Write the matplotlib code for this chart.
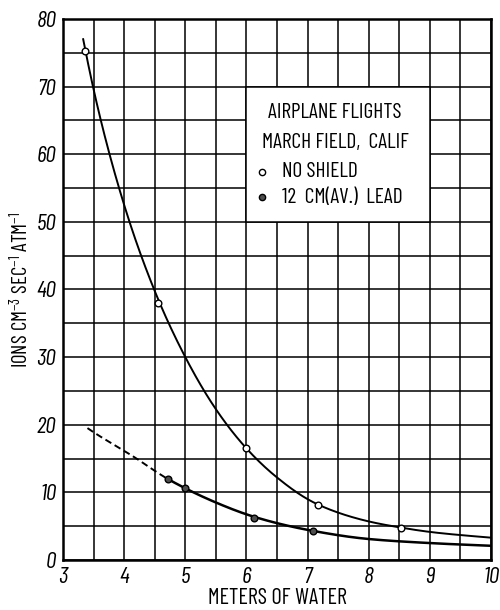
import numpy as np
import matplotlib
matplotlib.use("Agg")
import matplotlib.pyplot as plt
from matplotlib.patches import Rectangle

# ---- data ----
noshield_x = [3.36, 4.55, 6.0, 7.17, 8.52]
noshield_y = [75.3, 38.0, 16.5, 8.2, 4.8]

lead_x = [4.71, 5.0, 6.12, 7.09]
lead_y = [12.0, 10.6, 6.2, 4.3]

# hand-drawn smooth curves
noshield_curve_x = [3.33, 3.49, 4.0, 4.49, 5.0, 5.5, 6.0, 6.5, 7.17, 8.0, 8.52, 9.0, 10.0]
noshield_curve_y = [77.0, 70.0, 52.5, 40.0, 30.0, 22.3, 16.5, 12.2, 8.2, 5.7, 4.8, 4.15, 3.3]

lead_dash_x = [3.4, 4.15, 4.71]
lead_dash_y = [19.5, 15.3, 12.0]
lead_curve_x = [4.71, 5.0, 5.5, 6.12, 7.09, 8.0, 9.0, 10.0]
lead_curve_y = [12.0, 10.6, 8.5, 6.4, 4.3, 3.1, 2.5, 2.1]

x_ticks = [3, 4, 5, 6, 7, 8, 9, 10]
y_ticks = [0, 10, 20, 30, 40, 50, 60, 70, 80]

title1 = "AIRPLANE FLIGHTS"
title2 = "MARCH FIELD,  CALIF"
label_noshield = "NO SHIELD"
label_lead = "12  CM(AV.)  LEAD"
xlabel = "METERS OF WATER"
ylabel = r"IONS CM$^{-3}$ SEC$^{-1}$ ATM$^{-1}$"


def pchip_log(x, y, n=400):
    """Monotone cubic through the traced points, in log(y) for a smooth decay."""
    x = np.asarray(x, float)
    y = np.log(np.asarray(y, float))
    h = np.diff(x)
    d = np.diff(y) / h
    m = np.zeros_like(y)
    for k in range(1, len(x) - 1):
        if d[k - 1] * d[k] > 0:
            w1 = 2 * h[k] + h[k - 1]
            w2 = h[k] + 2 * h[k - 1]
            m[k] = (w1 + w2) / (w1 / d[k - 1] + w2 / d[k])
    m[0] = d[0]
    m[-1] = d[-1]
    xs = np.linspace(x[0], x[-1], n)
    idx = np.clip(np.searchsorted(x, xs) - 1, 0, len(x) - 2)
    t = (xs - x[idx]) / h[idx]
    h00 = 2 * t**3 - 3 * t**2 + 1
    h10 = t**3 - 2 * t**2 + t
    h01 = -2 * t**3 + 3 * t**2
    h11 = t**3 - t**2
    ys = h00 * y[idx] + h10 * h[idx] * m[idx] + h01 * y[idx + 1] + h11 * h[idx] * m[idx + 1]
    return xs, np.exp(ys)


FONT = ["Barlow Condensed", "DejaVu Sans"]
plt.rcParams["font.family"] = FONT
plt.rcParams["mathtext.fontset"] = "custom"
plt.rcParams["mathtext.rm"] = "Barlow Condensed"
plt.rcParams["mathtext.it"] = "Barlow Condensed:italic"
plt.rcParams["mathtext.bf"] = "Barlow Condensed"

fig = plt.figure(figsize=(5.0, 6.1), dpi=100)
ax = fig.add_axes([0.126, 0.082, 0.856, 0.887])

ax.set_xlim(3, 10)
ax.set_ylim(0, 80)
ax.set_xticks(x_ticks)
ax.set_xticks(np.arange(3, 10.01, 0.5), minor=True)
ax.set_yticks(y_ticks)
ax.set_yticks(np.arange(0, 80.1, 5), minor=True)
ax.set_xticklabels([str(v) for v in x_ticks], fontsize=17, style="italic")
ax.set_yticklabels([str(v) for v in y_ticks], fontsize=17, style="italic")
ax.tick_params(which="both", length=0)
ax.tick_params(axis="x", pad=5)
ax.tick_params(axis="y", pad=5)
ax.grid(which="both", color="black", linewidth=1.1)
ax.set_axisbelow(True)
for s in ax.spines.values():
    s.set_linewidth(1.8)

# legend box covering the grid
ax.add_patch(Rectangle((6.0, 50.0), 3.0, 20.0, facecolor="white",
                       edgecolor="black", linewidth=1.1, zorder=1))

# curves
cx, cy = pchip_log(noshield_curve_x, noshield_curve_y)
ax.plot(cx, cy, color="black", linewidth=1.4, zorder=3)
dx, dy = pchip_log(lead_dash_x, lead_dash_y)
ax.plot(dx, dy, color="black", linewidth=1.4, linestyle=(0, (3.5, 2.0)), zorder=3)
lx, ly = pchip_log(lead_curve_x, lead_curve_y)
ax.plot(lx, ly, color="black", linewidth=1.8, zorder=3)

# points
ax.plot(noshield_x, noshield_y, linestyle="none", marker="o", markersize=4.8,
        markerfacecolor="white", markeredgecolor="black", markeredgewidth=1.0, zorder=4)
ax.plot(lead_x, lead_y, linestyle="none", marker="o", markersize=4.8,
        markerfacecolor="0.3", markeredgecolor="black", markeredgewidth=1.0, zorder=4)

# legend contents
ax.text(7.45, 66.1, title1, ha="center", va="center", fontsize=15.5, zorder=5)
ax.text(7.45, 61.7, title2, ha="center", va="center", fontsize=15.5, zorder=5)
ax.plot([6.26], [57.4], linestyle="none", marker="o", markersize=4.5,
        markerfacecolor="white", markeredgecolor="black", markeredgewidth=1.0, zorder=5)
ax.plot([6.26], [53.6], linestyle="none", marker="o", markersize=4.5,
        markerfacecolor="0.3", markeredgecolor="black", markeredgewidth=1.0, zorder=5)
ax.text(6.58, 57.4, label_noshield, ha="left", va="center", fontsize=15.5, zorder=5)
ax.text(6.58, 53.6, label_lead, ha="left", va="center", fontsize=15.5, zorder=5)

ax.set_xlabel(xlabel, fontsize=16, labelpad=0)
ax.set_ylabel(ylabel, fontsize=15, labelpad=3)

fig.savefig("out.png", dpi=100)
